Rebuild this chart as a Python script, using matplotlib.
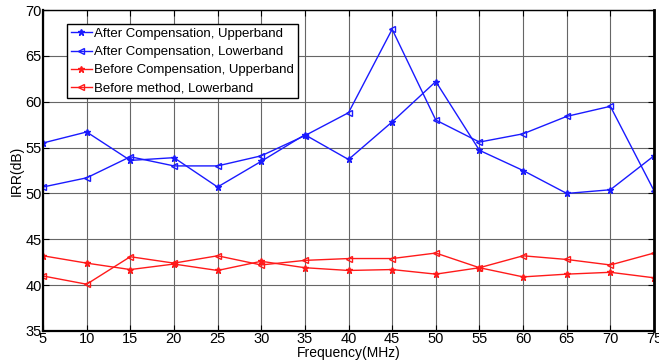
import matplotlib
matplotlib.use("Agg")
import matplotlib.pyplot as plt

plt.rcParams['font.family'] = ['Liberation Sans', 'DejaVu Sans']

freq = [5, 10, 15, 20, 25, 30, 35, 40, 45, 50, 55, 60, 65, 70, 75]
after_upper = [55.5, 56.7, 53.6, 53.9, 50.7, 53.5, 56.4, 53.7, 57.8, 62.2, 54.7, 52.5, 50.0, 50.4, 54.1]
after_lower = [50.7, 51.7, 54.0, 53.0, 53.0, 54.1, 56.3, 58.8, 67.9, 58.0, 55.6, 56.5, 58.4, 59.5, 50.3]
before_upper = [43.2, 42.4, 41.7, 42.3, 41.6, 42.6, 41.9, 41.6, 41.7, 41.2, 41.9, 40.9, 41.2, 41.4, 40.8]
before_lower = [41.0, 40.1, 43.1, 42.4, 43.2, 42.2, 42.7, 42.9, 42.9, 43.5, 41.9, 43.2, 42.8, 42.2, 43.5]

labels = ['After Compensation, Upperband', 'After Compensation, Lowerband',
          'Before Compensation, Upperband', 'Before method, Lowerband']

fig = plt.figure(figsize=(6.59, 3.64), dpi=100)
ax = fig.add_axes([43/659, 1 - 331/364, (654 - 43)/659, (331 - 10)/364])

blue = '#1a1aff'
red = '#ff1a1a'
ax.plot(freq, after_upper, color=blue, lw=1, marker='*', ms=5, label=labels[0])
ax.plot(freq, after_lower, color=blue, lw=1, marker='<', ms=5, mfc='none', label=labels[1])
ax.plot(freq, before_upper, color=red, lw=1, marker='*', ms=5, label=labels[2])
ax.plot(freq, before_lower, color=red, lw=1, marker='<', ms=5, mfc='none', label=labels[3])

ax.set_xlim(5, 75)
ax.set_ylim(35, 70)
ax.set_xticks(freq)
ax.set_yticks(range(35, 71, 5))
ax.grid(True, color='0.4', lw=0.8)
ax.tick_params(direction='in', top=True, right=True, labelsize=10.5, pad=1, length=4)
for s in ax.spines.values():
    s.set_linewidth(1.0)
ax.spines['left'].set_linewidth(1.6)
ax.spines['bottom'].set_linewidth(1.6)
ax.spines['right'].set_linewidth(2)

ax.set_xlabel('Frequency(MHz)', fontsize=10, labelpad=0)
ax.set_ylabel('IRR(dB)', fontsize=10, labelpad=1)

leg = ax.legend(loc='upper left', bbox_to_anchor=(0.04, 0.955), fontsize=9.5,
                handlelength=1.6, handletextpad=0.2, borderpad=0.25,
                labelspacing=0.45, fancybox=False, framealpha=1, borderaxespad=0)
leg.get_frame().set_edgecolor('black')
leg.get_frame().set_linewidth(1)

fig.savefig('out.png', dpi=100)
